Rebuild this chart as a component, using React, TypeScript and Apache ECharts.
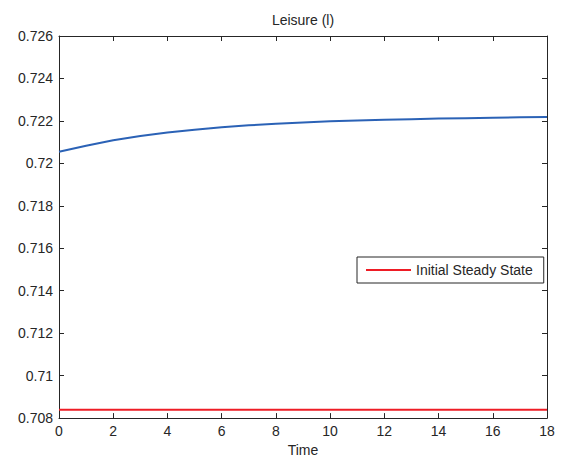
import React, { useEffect, useRef } from "react";
import * as echarts from "echarts";

const title = "Leisure (l)";
const xName = "Time";
const legendName = "Initial Steady State";
const time = [0, 1, 2, 3, 4, 5, 6, 7, 8, 9, 10, 11, 12, 13, 14, 15, 16, 17, 18];
const leisure = [
  0.72055, 0.72083, 0.72109, 0.72129, 0.72145, 0.72158, 0.7217, 0.72179, 0.72187,
  0.72193, 0.72198, 0.72202, 0.72205, 0.72208, 0.72211, 0.72213, 0.72215, 0.72217, 0.72219,
];
const steadyState = [0.70839, 0.70839];
const steadyTime = [0, 18];

const FONT = "'Liberation Sans', Arial, sans-serif";
const TXT = "#262626";
const AX = "#262626";

export default function App() {
  const ref = useRef<HTMLDivElement>(null);
  useEffect(() => {
    if (!ref.current) return;
    const chart = echarts.init(ref.current, undefined, { renderer: "svg" });
    const axisCommon = {
      axisLine: { show: true, onZero: false, lineStyle: { color: AX, width: 1 } },
      axisTick: { show: true, inside: true, length: 5, lineStyle: { color: AX, width: 1 } },
      splitLine: { show: false },
    };
    const xBase = { type: "value" as const, min: 0, max: 18, interval: 2, ...axisCommon };
    const yBase = { type: "value" as const, min: 0.708, max: 0.726, interval: 0.002, ...axisCommon };
    chart.setOption({
      animation: false,
      backgroundColor: "#ffffff",
      textStyle: { fontFamily: FONT },
      grid: { left: 59, right: 15, top: 36, bottom: 40, containLabel: false },
      graphic: [
        {
          type: "text",
          x: 303,
          y: 20,
          style: {
            text: title,
            fontFamily: FONT,
            fontSize: 14,
            fill: TXT,
            align: "center",
            verticalAlign: "middle",
          },
        },
      ],
      legend: {
        show: true,
        data: [{ name: legendName, icon: "rect" }],
        left: 357,
        top: 257,
        orient: "vertical",
        padding: [5, 11, 5, 9],
        itemWidth: 45,
        itemHeight: 2,
        backgroundColor: "#ffffff",
        borderColor: "#262626",
        borderWidth: 1,
        borderRadius: 0,
        textStyle: { fontFamily: FONT, fontSize: 14, color: TXT, lineHeight: 16 },
      },
      xAxis: [
        {
          ...xBase,
          position: "bottom",
          name: xName,
          nameLocation: "middle",
          nameGap: 23,
          nameTextStyle: { fontFamily: FONT, fontSize: 14, color: TXT },
          axisLabel: { show: true, fontFamily: FONT, fontSize: 14, color: TXT, margin: 6 },
        },
        { ...xBase, position: "top", axisLabel: { show: false } },
      ],
      yAxis: [
        {
          ...yBase,
          position: "left",
          axisLabel: {
            show: true,
            fontFamily: FONT,
            fontSize: 14,
            color: TXT,
            margin: 6,
            formatter: (v: number) => String(parseFloat(v.toFixed(3))),
          },
        },
        { ...yBase, position: "right", axisLabel: { show: false } },
      ],
      series: [
        {
          name: "Leisure",
          type: "line",
          xAxisIndex: 0,
          yAxisIndex: 0,
          data: time.map((t, i) => [t, leisure[i]]),
          symbol: "none",
          smooth: false,
          lineStyle: { color: "#2b62b6", width: 2 },
          itemStyle: { color: "#2b62b6" },
        },
        {
          name: legendName,
          type: "line",
          xAxisIndex: 0,
          yAxisIndex: 0,
          data: steadyTime.map((t, i) => [t, steadyState[i]]),
          symbol: "none",
          lineStyle: { color: "#ee1c25", width: 2 },
          itemStyle: { color: "#ee1c25" },
        },
      ],
    });
    return () => chart.dispose();
  }, []);
  return (
    <div
      ref={ref}
      style={{ position: "fixed", left: 0, top: 0, width: 562, height: 462, background: "#fff" }}
    />
  );
}
